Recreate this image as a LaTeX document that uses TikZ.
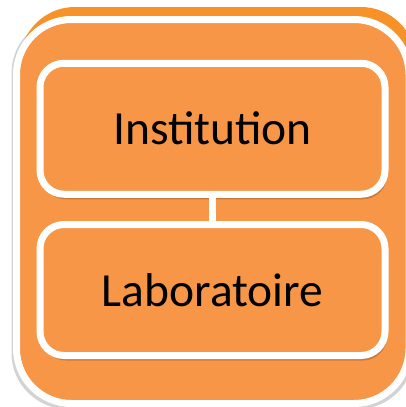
\documentclass[tikz,border=0pt]{standalone}
\usepackage{fontspec}
\setmainfont{Carlito}
\usetikzlibrary{shadows}
\definecolor{boxorange}{RGB}{247,150,70}
\definecolor{rimorange}{RGB}{247,146,40}
\definecolor{shadebrown}{RGB}{120,70,30}
\begin{document}
\begin{tikzpicture}[x=1pt,y=-1pt,line join=round,line cap=round]
	\tikzset{level box/.style={fill=boxorange,draw=white,line width=7pt,rounded corners=24pt,
			minimum width=345pt,minimum height=131pt,inner sep=0pt,
			font=\fontsize{47.5}{57}\selectfont,
			drop shadow={shadow xshift=2pt,shadow yshift=-5pt,opacity=0.35,fill=shadebrown}}}
	\useasboundingbox (0,0) rectangle (405,407);
	\fill[gray,opacity=0.35,rounded corners=56pt] (11.5,17) rectangle (414,409);
	\fill[rimorange,rounded corners=55pt] (20,7) rectangle (416,396);
	\draw[fill=boxorange,draw=white,line width=7pt,rounded corners=55pt] (16.5,19.5) rectangle (409,403.5);
	\node[level box] (inst) at (212.5,128.75) {Institution};
	\node[level box] (labo) at (212.5,290) {Laboratoire};
	\draw[white,line width=7pt,line cap=butt] (inst.south) -- (labo.north);
\end{tikzpicture}
\end{document}
